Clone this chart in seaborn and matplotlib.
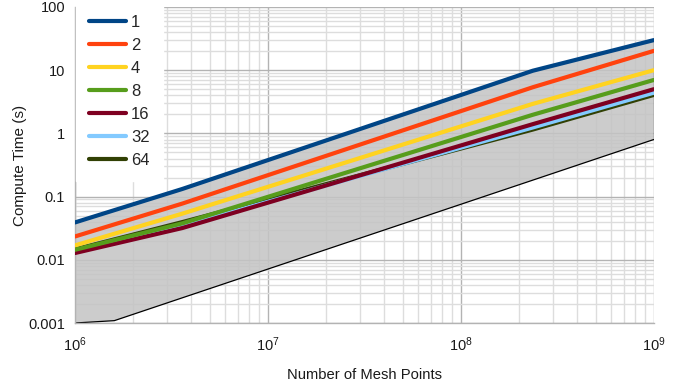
import matplotlib
matplotlib.use("Agg")
import matplotlib.pyplot as plt
import matplotlib.ticker as mticker
import seaborn as sns
import numpy as np
import pandas as pd

# mesh sizes where the timings were taken
mesh = [1e6, 3.6e6, 2.36e8, 1e9]
threads = ["1", "2", "4", "8", "16", "32", "64"]
t1 = [0.039, 0.132, 9.8, 29.9]
t2 = [0.0234, 0.0775, 5.37, 20.2]
t4 = [0.0169, 0.0537, 2.93, 10.0]
t8 = [0.0144, 0.0377, 1.97, 7.0]
t16 = [0.0128, 0.0318, 1.40, 5.0]
t32 = [0.0140, 0.0345, 1.24, 4.4]
t64 = [0.0146, 0.0395, 1.15, 4.06]

# lower bound curve
ref_mesh = [1e6, 1.6e6, 1e9]
ref_time = [0.001, 0.00109, 0.80]

colors = ["#004586", "#ff420e", "#ffd320", "#579d1c", "#7e0021", "#83caff", "#314004"]

times = [t1, t2, t4, t8, t16, t32, t64]
rows = []
for th, tt in zip(threads, times):
    for m, t in zip(mesh, tt):
        rows.append({"mesh": m, "time": t, "threads": th})
df = pd.DataFrame(rows)

sns.set_theme(style="white")
plt.rcParams["font.family"] = ["Liberation Sans", "DejaVu Sans"]

fig = plt.figure(figsize=(6.94, 3.88), dpi=100)
ax = fig.add_axes([0.108, 0.1675, 0.834, 0.8145])

# shaded band between the single-thread curve and the lower bound
px = np.concatenate([mesh, ref_mesh[::-1]])
py = np.concatenate([t1, ref_time[::-1]])
ax.fill(px, py, facecolor="#c4c4c4", edgecolor="none", alpha=0.85, zorder=1)
ax.plot(ref_mesh, ref_time, color="black", lw=0.9, zorder=2)
ax.vlines(mesh[-1], ref_time[-1], t1[-1], color="black", lw=0.9, zorder=2)

sns.lineplot(data=df, x="mesh", y="time", hue="threads", hue_order=threads,
             palette=colors, linewidth=3, ax=ax)
# fewer threads drawn on top
for i, line in enumerate(ax.lines[1:]):
    line.set_zorder(10 - i * 0.5)

ax.set_xscale("log")
ax.set_yscale("log")
ax.set_xlim(1e6, 1e9)
ax.set_ylim(0.001, 100)

ax.xaxis.set_major_locator(mticker.LogLocator(base=10, numticks=10))
ax.xaxis.set_minor_locator(mticker.LogLocator(base=10, subs=np.arange(2, 10), numticks=20))
ax.yaxis.set_major_locator(mticker.LogLocator(base=10, numticks=10))
ax.yaxis.set_minor_locator(mticker.LogLocator(base=10, subs=np.arange(2, 10), numticks=20))
ax.xaxis.set_minor_formatter(mticker.NullFormatter())
ax.yaxis.set_minor_formatter(mticker.NullFormatter())
ax.yaxis.set_major_formatter(mticker.FuncFormatter(lambda v, p: f"{v:g}"))

ax.grid(True, which="major", color="#b3b3b3", lw=1.0)
ax.grid(True, which="minor", color="#dddddd", lw=1.0)
ax.set_axisbelow(True)

for side in ["top", "right"]:
    ax.spines[side].set_visible(False)
for side in ["left", "bottom"]:
    ax.spines[side].set_color("#b3b3b3")
    ax.spines[side].set_linewidth(1.0)

ax.tick_params(axis="both", which="major", length=5, width=1, color="#b3b3b3",
               labelsize=10.5, labelcolor="#1a1a1a", pad=2)
ax.tick_params(axis="both", which="minor", length=0)
ax.tick_params(axis="x", which="major", pad=4)

ax.set_xlabel("Number of Mesh Points", fontsize=10.6, color="#1a1a1a", labelpad=10)
ax.set_ylabel("Compute Time (s)", fontsize=11, color="#1a1a1a", labelpad=1)

leg = ax.legend(loc="upper left", bbox_to_anchor=(0.002, 1.017), frameon=True,
                fontsize=12, handlelength=2.2, handletextpad=0.3,
                labelspacing=0.48, borderaxespad=0, borderpad=0.8,
                fancybox=False)
leg.get_frame().set_facecolor("white")
leg.get_frame().set_edgecolor("white")
leg.get_frame().set_alpha(1.0)
leg.set_zorder(20)
for line in leg.get_lines():
    line.set_linewidth(3)

fig.savefig("out.png", dpi=100)
